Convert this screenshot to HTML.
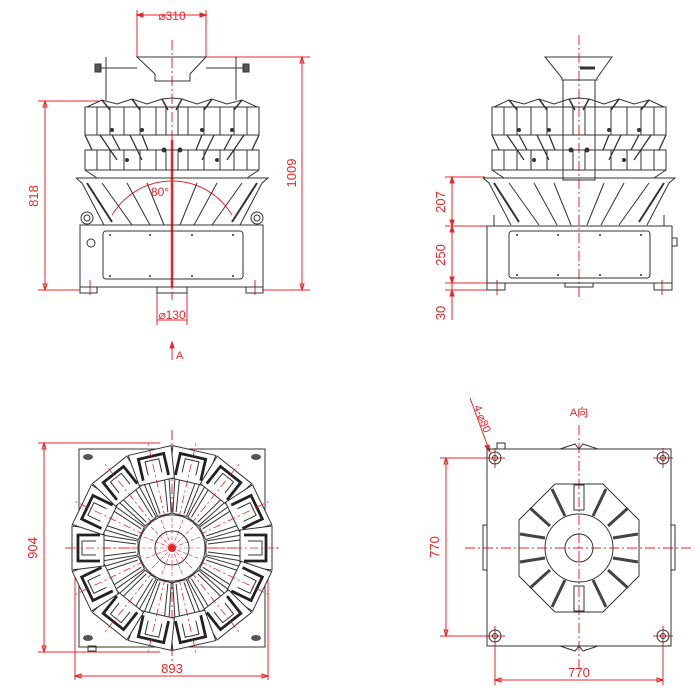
<!DOCTYPE html>
<html><head><meta charset="utf-8"><style>
html,body{margin:0;padding:0;background:#fff}
svg{display:block}
text{font-family:"Liberation Sans","Noto Sans CJK SC",sans-serif;fill:#e8262a}
</style></head><body>
<svg width="700" height="700" viewBox="0 0 700 700" xmlns="http://www.w3.org/2000/svg">
<defs>
<g id="elev" stroke="#333" fill="none" stroke-width="1">
  <rect x="-87" y="107" width="174" height="28"/>
  <path d="M-75 107V135M-62 107V135M-48 107V135M-32 107V135M-16 107V135M-6 107V135M6 107V135M16 107V135M32 107V135M48 107V135M62 107V135M75 107V135"/>
  <path d="M-85 107L-70 100L-55 104L-40 99L-25 104L-10 99L0 98L10 99L25 104L40 99L55 104L70 100L85 107"/>
  <path d="M-70 100L-62 110M-40 99L-32 110M-10 99L-4 110M10 99L4 110M40 99L32 110M70 100L62 110" stroke-width="1.5"/>
  <path d="M-87 135L-80 150M87 135L80 150M-60 135L-52 150M60 135L52 150M-30 135L-24 150M30 135L24 150M-72 135L-55 160M72 135L55 160M-42 135L-30 160M42 135L30 160" stroke-width="1.3"/>
  <g fill="#333" stroke="none"><circle cx="-60" cy="130" r="2"/><circle cx="-30" cy="130" r="2"/><circle cx="30" cy="130" r="2"/><circle cx="60" cy="130" r="2"/><circle cx="-45" cy="160" r="2"/><circle cx="45" cy="160" r="2"/><circle cx="-8" cy="150" r="2.5"/><circle cx="8" cy="150" r="2.5"/></g>
  <rect x="-87" y="150" width="174" height="20"/>
  <path d="M-75 150V170M-62 150V170M-48 150V170M-32 150V170M-16 150V170M-6 150V170M6 150V170M16 150V170M32 150V170M48 150V170M62 150V170M75 150V170"/>
  <path d="M-87 170L-75 178M87 170L75 178"/>
  <path d="M-96 178H96L90 183L68 225M-96 178L-90 183L-68 225"/>
  <path d="M-70 183L-40 225M70 183L40 225M-45 183L-22 225M45 183L22 225M-25 183L-8 225M25 183L8 225"/>
  <path d="M-85 183L-60 222M85 183L60 222" stroke-width="2"/>
</g>
<g id="head" stroke="#333" fill="none" stroke-width="1">
  <path d="M-7 -34L-13 -70L13 -70L7 -34Z"/>
  <path d="M-4 -36L-8 -68M4 -36L8 -68"/>
  <path d="M-18 -68L-22 -100L22 -100L18 -68Z" fill="#fff"/>
  <path d="M-13 -72V-94H13V-72" stroke-width="2.8" stroke="#222"/>
  <path d="M-7 -76V-90H7V-76" stroke-width="1"/>
  <path d="M0 -30V-110" stroke="#e8262a" stroke-dasharray="8 3 2 3" stroke-width="0.8"/>
</g>
</defs>

<g stroke="#e8262a" fill="none" stroke-width="1">
  <path d="M137 15H206M137 10V57M206 10V57"/>
  <path d="M137 15l6 -2v4zM206 15l-6 -2v4z" fill="#e8262a"/>
  <path d="M45 101V290M38 101H100M38 290H80M45 101l-2 6h4zM45 290l-2 -6h4z"/>
  <path d="M302 57V290M206 57H310M262 290H310M302 57l-2 6h4zM302 290l-2 -6h4z"/>
  <path d="M157 287V325M187 287V325M157 320H187"/>
  <path d="M172 40V300" stroke-dasharray="10 3 2 3"/>
  <path d="M172 140V287" stroke-width="2.5"/>
  <path d="M172 345V360"/><path d="M172 342l-2 6h4z" fill="#e8262a"/>
  <path d="M112 215A70 70 0 0 1 232 215"/>
  <path d="M90 280V295M255 280V295"/>
  <path d="M579 35V300" stroke-dasharray="10 3 2 3"/>
  <path d="M452 177V320M445 177H485M445 226H487M445 283H487M445 290H490"/>
  <path d="M452 177l-2 6h4zM452 226l-2 -6h4zM452 226l-2 6h4zM452 283l-2 -6h4zM452 290l-2 6h4z" fill="#e8262a"/>
  <path d="M497 280V295M662 280V295"/>
  <path d="M44 443V652M38 443H160M38 652H160M44 443l-2 6h4zM44 652l-2 -6h4z"/>
  <path d="M75 676H268M75 560V680M268 560V680M75 676l6 -2v4zM268 676l-6 -2v4z"/>
  <path d="M65 548H280M172 430V665" stroke-dasharray="10 3 2 3"/>
  <path d="M446 458V636M440 458H490M440 636H490M446 458l-2 6h4zM446 636l-2 -6h4z"/>
  <path d="M495 680H663M495 640V685M663 640V685M495 680l6 -2v4zM663 680l-6 -2v4z"/>
  <path d="M579 425V670M465 548H692" stroke-dasharray="10 3 2 3"/>
  <path d="M470 398L488 447"/><path d="M490 452l-5 -6 4 -1z" fill="#e8262a"/>
  <path d="M485 458H505M495 448V468M653 458H673M663 448V468M485 636H505M495 626V646M653 636H673M663 626V646"/>
</g>

<g stroke="#333" fill="none" stroke-width="1">
  <path d="M137 57H206L190 74V81H155V74Z"/>
  <path d="M100 68H137M206 68H244M106 57V100M236 57V100"/>
  <rect x="95" y="64" width="6" height="8" fill="#555"/><rect x="243" y="64" width="6" height="8" fill="#555"/>
  <use href="#elev" x="172"/>
  <circle cx="87" cy="218" r="6"/><circle cx="87" cy="218" r="3"/>
  <circle cx="257" cy="218" r="6"/><circle cx="257" cy="218" r="3"/>
  <rect x="80" y="225" width="183" height="62"/>
  <rect x="103" y="231" width="140" height="48" rx="3"/>
  <circle cx="91" cy="243" r="4"/>
  <rect x="80" y="287" width="17" height="6"/><rect x="246" y="287" width="17" height="6"/>
  <rect x="157" y="287" width="30" height="6"/>
  <g fill="#333" stroke="none"><circle cx="110" cy="235" r="1"/><circle cx="150" cy="235" r="1"/><circle cx="192" cy="235" r="1"/><circle cx="233" cy="235" r="1"/>
  <circle cx="110" cy="276" r="1"/><circle cx="150" cy="276" r="1"/><circle cx="192" cy="276" r="1"/><circle cx="233" cy="276" r="1"/></g>
</g>

<g stroke="#333" fill="none" stroke-width="1">
  <path d="M545 57H612L597 78V80H562V78Z"/>
  <rect x="563" y="80" width="32" height="100"/>
  <path d="M580 68h15" stroke-width="3"/>
  <use href="#elev" x="579"/>
  <rect x="487" y="226" width="185" height="57"/>
  <rect x="509" y="231" width="141" height="47" rx="3"/>
  <rect x="672" y="238" width="5" height="8"/>
  <path d="M494 215V226M664 215V226"/>
  <rect x="487" y="283" width="18" height="7"/><rect x="654" y="283" width="18" height="7"/>
  <rect x="565" y="283" width="28" height="4"/>
  <g fill="#333" stroke="none"><circle cx="517" cy="235" r="1"/><circle cx="558" cy="235" r="1"/><circle cx="600" cy="235" r="1"/><circle cx="641" cy="235" r="1"/>
  <circle cx="517" cy="275" r="1"/><circle cx="558" cy="275" r="1"/><circle cx="600" cy="275" r="1"/><circle cx="641" cy="275" r="1"/></g>
</g>

<g stroke="#333" fill="none" stroke-width="1">
  <rect x="79" y="449" width="186" height="198"/>
  <g fill="#555" stroke="none"><ellipse cx="88" cy="457" rx="5" ry="3"/><ellipse cx="256" cy="457" rx="5" ry="3"/><ellipse cx="88" cy="638" rx="5" ry="3"/><ellipse cx="256" cy="638" rx="5" ry="3"/></g>
  <g transform="translate(172,548)">
    <use href="#head" transform="rotate(12.9)"/><use href="#head" transform="rotate(38.6)"/>
    <use href="#head" transform="rotate(64.3)"/><use href="#head" transform="rotate(90)"/>
    <use href="#head" transform="rotate(115.7)"/><use href="#head" transform="rotate(141.4)"/>
    <use href="#head" transform="rotate(167.1)"/><use href="#head" transform="rotate(192.9)"/>
    <use href="#head" transform="rotate(218.6)"/><use href="#head" transform="rotate(244.3)"/>
    <use href="#head" transform="rotate(270)"/><use href="#head" transform="rotate(295.7)"/>
    <use href="#head" transform="rotate(321.4)"/><use href="#head" transform="rotate(347.1)"/>
    <circle r="33" fill="#fff"/><circle r="17"/>
    <circle r="4" fill="#e8262a" stroke="none"/>
    <path d="M0 -30V30M-30 0H30M-21 -21L21 21M21 -21L-21 21M-11 -28L11 28M11 -28L-11 28M-28 -11L28 11M28 -11L-28 11" stroke="#e8262a" stroke-width="0.6" stroke-dasharray="4 2"/>
  </g>
  <rect x="88" y="646" width="8" height="5"/>
</g>

<g stroke="#333" fill="none" stroke-width="1">
  <rect x="487" y="449" width="184" height="197"/>
  <rect x="497" y="443" width="8" height="6"/>
  <path d="M560 449L575 444L579 449L583 444L598 449M560 646L575 651L579 646L583 651L598 646"/>
  <rect x="483" y="525" width="4" height="45"/><rect x="671" y="525" width="4" height="45"/>
  <circle cx="495" cy="458" r="6"/><circle cx="495" cy="458" r="2.5"/>
  <circle cx="663" cy="458" r="6"/><circle cx="663" cy="458" r="2.5"/>
  <circle cx="495" cy="636" r="6"/><circle cx="495" cy="636" r="2.5"/>
  <circle cx="663" cy="636" r="6"/><circle cx="663" cy="636" r="2.5"/>
  <path d="M555 484H603L639 520V576L603 612H555L519 576V520Z"/>
  <circle cx="579" cy="548" r="34"/>
  <circle cx="579" cy="548" r="14"/>
  <g stroke-width="3" stroke="#444">
    <path d="M552 489L565 516M606 489L593 516M530 508L550 526M628 508L608 526M520 534L545 538M638 534L613 538M520 562L545 558M638 562L613 558M530 588L550 570M628 588L608 570M552 607L565 580M606 607L593 580"/>
  </g>
  <rect x="574" y="485" width="10" height="25"/><rect x="574" y="586" width="10" height="25"/>
</g>

<text x="172" y="20" font-size="12" text-anchor="middle">⌀310</text>
<text x="42" y="196" font-size="13" text-anchor="middle" transform="rotate(-90 42 196)" dy="-4">818</text>
<text x="300" y="173" font-size="13" text-anchor="middle" transform="rotate(-90 300 173)" dy="-4">1009</text>
<text x="160" y="196" font-size="12" text-anchor="middle">80°</text>
<text x="172" y="319" font-size="12" text-anchor="middle">⌀130</text>
<text x="176" y="359" font-size="11">A</text>
<text x="449" y="202" font-size="13" text-anchor="middle" transform="rotate(-90 449 202)" dy="-4">207</text>
<text x="449" y="255" font-size="13" text-anchor="middle" transform="rotate(-90 449 255)" dy="-4">250</text>
<text x="449" y="313" font-size="13" text-anchor="middle" transform="rotate(-90 449 313)" dy="-4">30</text>
<text x="41" y="548" font-size="13" text-anchor="middle" transform="rotate(-90 41 548)" dy="-4">904</text>
<text x="172" y="673" font-size="13" text-anchor="middle">893</text>
<text x="579" y="416" font-size="11" text-anchor="middle">A向</text>
<text x="479" y="420" font-size="11" text-anchor="middle" transform="rotate(68 479 420)">4-⌀80</text>
<text x="443" y="547" font-size="13" text-anchor="middle" transform="rotate(-90 443 547)" dy="-4">770</text>
<text x="579" y="677" font-size="13" text-anchor="middle">770</text>
</svg>
</body></html>
